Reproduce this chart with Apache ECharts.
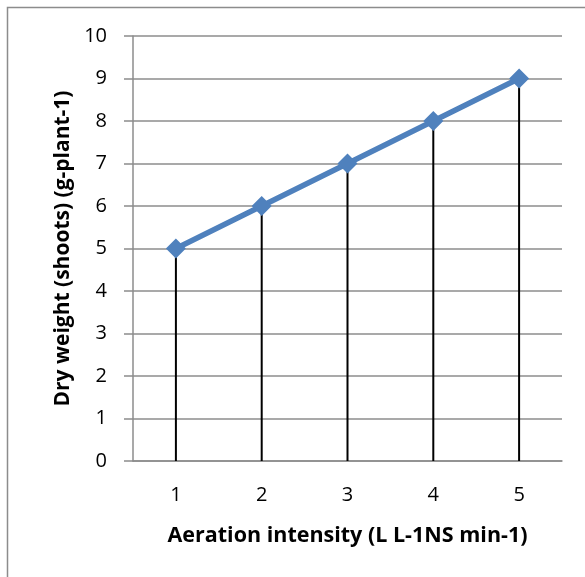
<!DOCTYPE html>
<html><head><meta charset="utf-8">
<script src="https://cdn.jsdelivr.net/npm/echarts@6/dist/echarts.min.js"></script>
<style>html,body{margin:0;padding:0;background:#fff}#c{width:585px;height:577px}</style>
</head><body><div id="c"></div>
<script>
const categories = ['1','2','3','4','5'];
const dryWeight = [5, 6, 7, 8, 9];
const xTitle = 'Aeration intensity (L L-1NS min-1)';
const yTitle = 'Dry weight (shoots) (g-plant-1)';
const font = 'Open Sans';
const chart = echarts.init(document.getElementById('c'), null, {renderer:'canvas'});
chart.setOption({
  animation:false,
  graphic:[{type:'rect',shape:{x:7.5,y:7.5,width:700,height:700},style:{fill:'none',stroke:'#8c8c8c',lineWidth:1.5},silent:true}],
  grid:{left:133,right:23,top:36,bottom:116,containLabel:false},
  xAxis:{type:'category',data:categories,boundaryGap:true,
    axisLine:{show:true,lineStyle:{color:'#8c8c8c',width:1.5}},
    axisTick:{show:false},
    axisLabel:{color:'#000',fontSize:20,fontFamily:font,margin:24},
    name:xTitle,nameLocation:'middle',nameGap:64,
    nameTextStyle:{color:'#000',fontSize:21.5,fontWeight:'bold',fontFamily:font},
    splitLine:{show:false}},
  yAxis:{type:'value',min:0,max:10,interval:1,
    axisLine:{show:true,lineStyle:{color:'#8c8c8c',width:1.5}},
    axisTick:{show:true,length:9,inside:false,lineStyle:{color:'#8c8c8c',width:1.5}},
    axisLabel:{color:'#000',fontSize:20,fontFamily:font,margin:26},
    splitLine:{show:true,lineStyle:{color:'#8c8c8c',width:1.5}},
    name:yTitle,nameLocation:'middle',nameGap:58,nameRotate:90,
    nameTextStyle:{color:'#000',fontSize:21,fontWeight:'bold',fontFamily:font}},
  series:[
    {type:'bar',data:dryWeight,barWidth:2,itemStyle:{color:'#000'},z:2,silent:true},
    {type:'line',data:dryWeight,symbol:'diamond',symbolSize:20,
     lineStyle:{color:'#4F81BD',width:5.5},itemStyle:{color:'#4F81BD'},z:3}
  ]
});
</script></body></html>
